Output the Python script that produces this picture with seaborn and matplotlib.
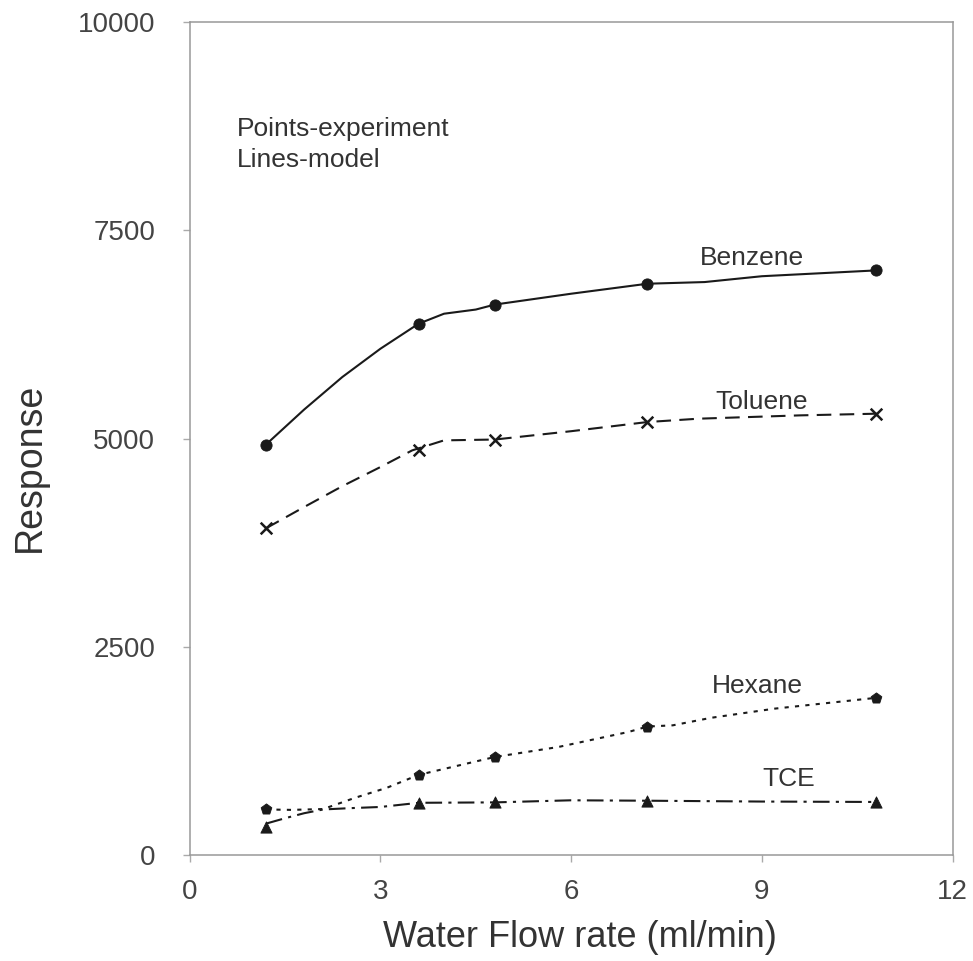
import pandas as pd
import matplotlib.pyplot as plt
import seaborn as sns

# experimental points
flow_pts = [1.2, 3.6, 4.8, 7.2, 10.8]
benzene_pts = [4930, 6380, 6610, 6860, 7020]
toluene_pts = [3925, 4860, 4990, 5200, 5300]
hexane_pts = [550, 965, 1180, 1545, 1890]
tce_pts = [345, 630, 635, 655, 640]

# model curves
benzene_x = [1.2, 1.8, 2.4, 3.0, 3.6, 4.0, 4.5, 4.8, 6.0, 7.2, 8.1, 9.0, 10.8]
benzene_y = [4930, 5350, 5740, 6080, 6380, 6500, 6550, 6610, 6740, 6860, 6880, 6950, 7020]
toluene_x = [1.2, 1.8, 2.4, 3.0, 3.5, 4.0, 4.8, 6.0, 7.2, 8.0, 9.6, 10.8]
toluene_y = [3925, 4180, 4430, 4660, 4860, 4980, 4990, 5090, 5200, 5240, 5280, 5300]
hexane_x = [1.2, 1.6, 2.1, 2.6, 3.1, 3.6, 4.8, 5.8, 6.9, 7.2, 7.6, 8.2, 9.2, 10.8]
hexane_y = [550, 545, 555, 690, 810, 965, 1180, 1300, 1480, 1545, 1560, 1650, 1760, 1890]
tce_x = [1.2, 1.5, 1.8, 2.1, 2.5, 3.0, 3.6, 4.8, 6.0, 7.2, 9.0, 10.8]
tce_y = [380, 445, 505, 550, 565, 580, 630, 635, 660, 655, 645, 640]

names = ['Benzene', 'Toluene', 'Hexane', 'TCE']
markers = ['o', 'x', 'p', '^']
dashes = [(None, None), (7, 4), (2, 3), (8, 3, 1.5, 3)]
label_pos = [(8.84, 7170), (9.0, 5440), (8.93, 2030), (9.43, 920)]

pts = pd.DataFrame({
    'flow': flow_pts * 4,
    'response': benzene_pts + toluene_pts + hexane_pts + tce_pts,
    'compound': [n for n in names for _ in flow_pts],
})
models = [(benzene_x, benzene_y), (toluene_x, toluene_y), (hexane_x, hexane_y), (tce_x, tce_y)]

sns.set_style('white')
plt.rcParams['font.family'] = ['Liberation Sans', 'DejaVu Sans']

fig = plt.figure(figsize=(9.73, 9.61), dpi=100)
ax = fig.add_axes([0.195, 0.110, 0.784, 0.867])

for name, (mx, my), d in zip(names, models, dashes):
    line = pd.DataFrame({'flow': mx, 'response': my})
    sns.lineplot(data=line, x='flow', y='response', ax=ax, color='#1a1a1a', lw=1.5)
    if d[0] is not None:
        ax.lines[-1].set_dashes(d)

for name, m in zip(names, markers):
    sub = pts[pts['compound'] == name]
    if m == 'x':
        sns.scatterplot(data=sub, x='flow', y='response', ax=ax, marker='x', s=70,
                        color='#1a1a1a', linewidth=1.8, zorder=3)
    else:
        sns.scatterplot(data=sub, x='flow', y='response', ax=ax, marker=m, s=65,
                        color='#1a1a1a', edgecolor='#1a1a1a', zorder=3)

for name, (tx, ty) in zip(names, label_pos):
    ax.text(tx, ty, name, fontsize=19, color='#333333', ha='center', va='center')

ax.text(0.74, 8530, 'Points-experiment\nLines-model', fontsize=19, color='#333333',
        ha='left', va='center', linespacing=1.38)

ax.set_xlim(0, 12)
ax.set_ylim(0, 10000)
ax.set_xticks([0, 3, 6, 9, 12])
ax.set_yticks([0, 2500, 5000, 7500, 10000])
ax.tick_params(labelsize=20, colors='#aaaaaa', labelcolor='#444444', length=5, width=1,
               direction='out', left=True, bottom=True)
ax.tick_params(axis='y', pad=20)
ax.tick_params(axis='x', pad=12)
for s in ax.spines.values():
    s.set_color('#999999')
    s.set_linewidth(1.1)

ax.set_xlabel('Water Flow rate (ml/min)', fontsize=26, color='#333333')
ax.set_ylabel('Response', fontsize=27, color='#333333')
ax.xaxis.set_label_coords(0.511, -0.078)
ax.yaxis.set_label_coords(-0.186, 0.465)

plt.savefig('out.png', dpi=100)
